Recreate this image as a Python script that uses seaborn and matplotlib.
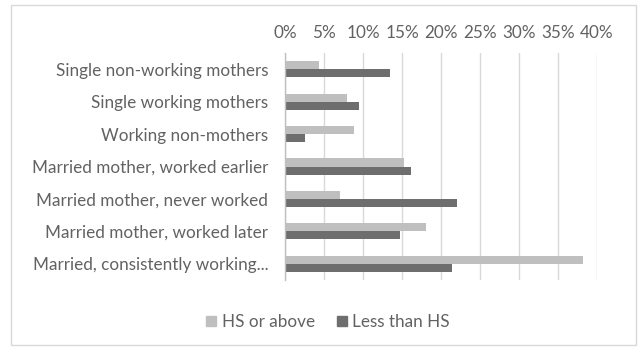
import matplotlib
matplotlib.use("Agg")
import matplotlib.pyplot as plt
from matplotlib.patches import Rectangle
from matplotlib.ticker import PercentFormatter
import pandas as pd
import seaborn as sns

categories = [
    "Single non-working mothers",
    "Single working mothers",
    "Working non-mothers",
    "Married mother, worked earlier",
    "Married mother, never worked",
    "Married mother, worked later",
    "Married, consistently working...",
]
hs_or_above = [4.4, 8.0, 8.9, 15.2, 7.0, 18.1, 38.2]
less_than_hs = [13.5, 9.5, 2.6, 16.1, 22.1, 14.8, 21.4]
series_names = ["HS or above", "Less than HS"]
series_colors = ["#bfbfbf", "#6e6e6e"]
tick_values = [0, 5, 10, 15, 20, 25, 30, 35, 40]

df = pd.DataFrame({
    "category": categories * 2,
    "value": hs_or_above + less_than_hs,
    "series": [series_names[0]] * len(categories) + [series_names[1]] * len(categories),
})

sns.set_theme(style="white")
plt.rcParams["font.family"] = ["Lato", "DejaVu Sans"]
text_color = "#626262"

fig = plt.figure(figsize=(6.4, 3.5), dpi=100)
ax = fig.add_axes([285 / 640, 1 - 280 / 350, (597 - 285) / 640, (280 - 53) / 350])

sns.barplot(
    data=df, y="category", x="value", hue="series", order=categories,
    hue_order=series_names, palette=series_colors, orient="h",
    width=0.5, dodge=True, ax=ax, legend=True, saturation=1, edgecolor="none",
)

ax.set_xlim(0, 40)
ax.set_xticks(tick_values)
ax.xaxis.set_major_formatter(PercentFormatter(decimals=0))
ax.xaxis.tick_top()
ax.grid(axis="x", color="#d9d9d9", linewidth=1)
ax.set_axisbelow(True)
ax.set_xlabel("")
ax.set_ylabel("")
for side in ["top", "right", "bottom"]:
    ax.spines[side].set_visible(False)
ax.spines["left"].set_color("#bfbfbf")
ax.spines["left"].set_linewidth(1)
ax.tick_params(axis="both", length=0, colors=text_color, labelsize=12.3)
ax.tick_params(axis="x", pad=9)
ax.tick_params(axis="y", pad=12)

ax.legend_.remove()
handles = [Rectangle((0, 0), 1, 1, color=c) for c in series_colors]
fig.legend(
    handles, series_names, loc="center", bbox_to_anchor=(328 / 640, 1 - 322 / 350),
    ncol=2, frameon=False, fontsize=12.3, labelcolor=text_color,
    handlelength=0.6, handleheight=0.6, handletextpad=0.3, columnspacing=1.3,
)

# chart border
fig.add_artist(Rectangle((11 / 640, 5 / 350), (636 - 11) / 640, (345 - 5) / 350,
                         transform=fig.transFigure, fill=False,
                         edgecolor="#d9d9d9", linewidth=1))

fig.savefig("out.png", dpi=100)
